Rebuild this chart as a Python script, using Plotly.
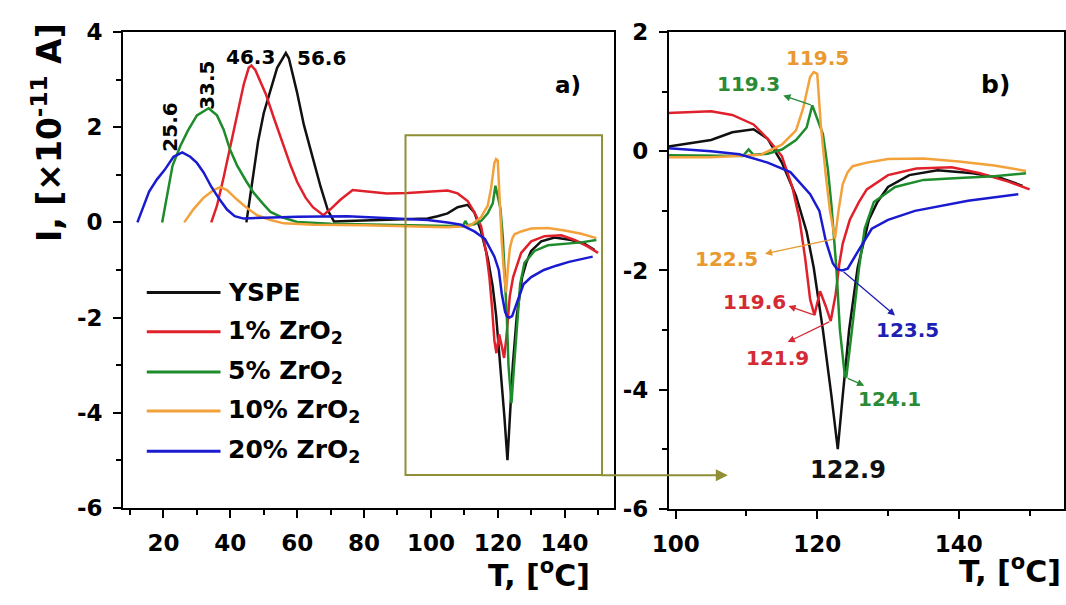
import numpy as np
import plotly.graph_objects as go

# ---- TSDC current vs temperature, I in units of 1e-11 A ----
black_T = [44.8, 46.5, 48.3, 50, 51.8, 54, 56.6, 57.5, 59.9, 62,
           64.5, 67, 69.2, 71, 75, 85, 95, 99, 102, 105,
           108, 111, 113, 115, 117, 118.5, 119.5, 120.8, 122, 122.9,
           123.6, 124.5, 125.7, 127.3, 128.5, 130, 133, 137, 142, 146, 149]
black_I = [0, 0.8, 1.7, 2.3, 2.75, 3.25, 3.56, 3.45, 2.75, 2.05,
           1.4, 0.75, 0.25, 0.02, 0.03, 0.05, 0.06, 0.08, 0.13, 0.19,
           0.32, 0.37, 0.21, -0.19, -0.75, -1.35, -1.95, -3.0, -4.1, -5.0,
           -4.1, -3.0, -1.96, -1.15, -0.85, -0.6, -0.4, -0.32, -0.37, -0.45, -0.58]

red_T = [34.3, 36, 38, 40, 42, 44, 45.5, 46.3, 47.5, 49,
         50.6, 53, 55.3, 58, 60, 62.5, 64.7, 67.8, 70, 73,
         76.6, 80, 86.8, 93, 99, 105, 108, 111, 113, 115,
         116.5, 117.5, 118.3, 119, 119.6, 120.4, 121.2, 121.9, 122.6, 123.1,
         123.6, 124.6, 125.9, 127, 130, 134, 139, 143, 147, 150]
red_I = [0, 0.35, 0.95, 1.6, 2.3, 2.9, 3.25, 3.3, 3.2, 2.95,
         2.7, 2.2, 1.73, 1.2, 0.85, 0.52, 0.32, 0.15, 0.28, 0.48,
         0.68, 0.66, 0.61, 0.62, 0.64, 0.67, 0.61, 0.45, 0.21, -0.08,
         -0.61, -1.15, -1.8, -2.49, -2.75, -2.35, -2.6, -2.85, -2.4, -1.9,
         -1.55, -1.15, -0.85, -0.64, -0.4, -0.29, -0.27, -0.37, -0.51, -0.64]

green_T = [19.6, 21, 22.7, 25, 27.3, 30, 33.5, 36, 38, 39.9,
           42, 44.8, 47, 49.8, 52, 55.3, 60, 70, 85, 99,
           105, 109.5, 110.3, 111, 113, 115, 117, 118.5, 119.3, 120,
           120.8, 121.5, 122, 122.7, 123.2, 123.9, 124.1, 124.9, 125.9, 126.7,
           128, 131, 135, 140, 145, 149.5]
green_I = [0, 0.55, 1.19, 1.6, 1.93, 2.25, 2.4, 2.25, 1.95, 1.53,
           1.2, 0.86, 0.62, 0.39, 0.22, 0.11, 0.01, -0.03, -0.05, -0.07,
           -0.08, -0.08, 0.03, -0.06, -0.04, 0.03, 0.19, 0.4, 0.77, 0.55,
           0.29, -0.3, -0.9, -1.96, -3.0, -3.77, -3.8, -3.0, -1.96, -1.3,
           -0.85, -0.6, -0.48, -0.45, -0.42, -0.37]

orange_T = [26.2, 29, 32, 35, 37, 39, 42, 45, 48, 52,
            56, 65, 80, 95, 99, 105, 110, 112, 113, 115,
            117, 118, 119, 119.5, 120, 120.5, 121.2, 121.8, 122.5, 123,
            123.6, 124.3, 125, 127, 130, 135, 140, 145, 149.5]
orange_I = [0, 0.28, 0.52, 0.68, 0.74, 0.68, 0.48, 0.3, 0.15, 0.05,
            -0.02, -0.05, -0.06, -0.08, -0.1, -0.1, -0.08, -0.06, 0.0, 0.11,
            0.35, 0.72, 1.25, 1.33, 1.3, 0.45, -0.4, -1.0, -1.47, -1.0,
            -0.55, -0.35, -0.25, -0.19, -0.13, -0.12, -0.17, -0.24, -0.33]

blue_T = [12.2, 14, 15.7, 18, 20.3, 23, 25.6, 28, 30, 32,
          34.3, 36.6, 39, 41.3, 44, 50, 60, 75, 90, 99,
          105, 109, 113, 116.2, 119, 120.3, 121.2, 122.2, 122.8, 123.5,
          124.3, 125.2, 125.9, 127.7, 130, 133.8, 137.5, 141.3, 148.4]
blue_I = [0, 0.35, 0.65, 0.9, 1.1, 1.38, 1.47, 1.38, 1.25, 1.05,
          0.75, 0.5, 0.27, 0.13, 0.08, 0.1, 0.12, 0.13, 0.08, 0.05,
          0.0, -0.05, -0.19, -0.35, -0.72, -1.0, -1.5, -1.88, -1.98, -2.0,
          -1.97, -1.8, -1.65, -1.3, -1.15, -1.0, -0.91, -0.83, -0.72]

series_names = ["YSPE", "1% ZrO<sub>2</sub>", "5% ZrO<sub>2</sub>",
                "10% ZrO<sub>2</sub>", "20% ZrO<sub>2</sub>"]
series_T = [black_T, red_T, green_T, orange_T, blue_T]
series_I = [black_I, red_I, green_I, orange_I, blue_I]
line_colors = ["#111111", "#e0202a", "#1e8c2c", "#f3a13a", "#1a1ad0"]
text_colors = ["#111111", "#d42a34", "#2a8a35", "#e8992f", "#1f1fb4"]

# axis tick values and labels (plain hyphen for negatives)
left_y_ticks = [-6, -4, -2, 0, 2, 4]
right_y_ticks = [-6, -4, -2, 0, 2]
left_x_ticks = [20, 40, 60, 80, 100, 120, 140]
right_x_ticks = [100, 120, 140]

W, H = 1066, 605
FONT = "DejaVu Sans"
OLIVE = "#8f8f35"


def px(x):
    return x / W


def py(y):
    return 1 - y / H


def extremum(T, I, lo, hi, kind):
    T = np.asarray(T, float)
    I = np.asarray(I, float)
    m = (T >= lo) & (T <= hi)
    idx = np.where(m)[0]
    k = idx[np.argmax(I[m])] if kind == "max" else idx[np.argmin(I[m])]
    return float(T[k]), float(I[k])


fig = go.Figure()
for name, T, I, c in zip(series_names, series_T, series_I, line_colors):
    fig.add_trace(go.Scatter(x=T, y=I, mode="lines", name=name,
                             line=dict(color=c, width=2.5),
                             xaxis="x", yaxis="y"))
    fig.add_trace(go.Scatter(x=T, y=I, mode="lines", name=name,
                             line=dict(color=c, width=2.5),
                             xaxis="x2", yaxis="y2", showlegend=False))

tickfont = dict(family=FONT, size=23, color="black", weight="bold")
minor_common = dict(ticks="outside", ticklen=5, tickwidth=2,
                    tickcolor="black", showgrid=False)
axis_common = dict(showline=True, linewidth=2, linecolor="black", mirror=True,
                   ticks="outside", ticklen=8, tickwidth=2, tickcolor="black",
                   showgrid=False, zeroline=False, tickfont=tickfont,
                   ticklabelstandoff=6)


def tick_text(vals):
    return [str(v) for v in vals]


fig.update_layout(
    width=W, height=H, margin=dict(l=0, r=0, t=0, b=0),
    plot_bgcolor="white", paper_bgcolor="white", showlegend=False,
    xaxis=dict(axis_common, domain=[px(108), px(607)], range=[7.94, 154.7],
               tickmode="array", tickvals=left_x_ticks,
               ticktext=tick_text(left_x_ticks),
               minor=dict(minor_common, tick0=0, dtick=10),
               anchor="y"),
    yaxis=dict(axis_common, domain=[py(517), py(20)], range=[-6, 4],
               tickmode="array", tickvals=left_y_ticks,
               ticktext=tick_text(left_y_ticks),
               minor=dict(minor_common, tick0=0, dtick=1),
               anchor="x"),
    xaxis2=dict(axis_common, domain=[px(663), px(1065)], range=[99.03, 154.86],
                tickmode="array", tickvals=right_x_ticks,
                ticktext=tick_text(right_x_ticks),
                minor=dict(minor_common, tick0=0, dtick=10),
                anchor="y2"),
    yaxis2=dict(axis_common, domain=[py(518), py(20)], range=[-6, 2],
                tickmode="array", tickvals=right_y_ticks,
                ticktext=tick_text(right_y_ticks),
                minor=dict(minor_common, tick0=0, dtick=1),
                anchor="x2"),
)

ann = []


def bold(size, color="black"):
    return dict(family=FONT, size=size, color=color, weight="bold")


# axis titles
ann.append(dict(text="I, [\u00d710<sup>-11</sup> A]", xref="paper", yref="paper",
                x=px(31), y=py(125), textangle=-90, showarrow=False,
                xanchor="center", yanchor="middle", font=bold(33)))
ann.append(dict(text="T, [<sup>o</sup>C]", xref="paper", yref="paper",
                x=px(531), y=py(586), showarrow=False,
                xanchor="center", yanchor="middle", font=bold(30)))
ann.append(dict(text="T, [<sup>o</sup>C]", xref="paper", yref="paper",
                x=px(1010), y=py(582), showarrow=False,
                xanchor="center", yanchor="middle", font=bold(30)))
ann.append(dict(text="a)", xref="paper", yref="paper", x=px(560), y=py(60),
                showarrow=False, font=bold(23)))
ann.append(dict(text="b)", xref="paper", yref="paper", x=px(1012), y=py(57),
                showarrow=False, font=bold(25)))

# low-temperature peak labels (panel a)
peak_labels = [
    (black_T, black_I, 40, 80, 36, 5, 0),
    (red_T, red_I, 30, 60, -1, -8, 0),
    (green_T, green_I, 15, 60, -1, -23, -90),
    (blue_T, blue_I, 10, 50, -12, -25, -90),
]
for T, I, lo, hi, dx, dy, ang in peak_labels:
    t, i = extremum(T, I, lo, hi, "max")
    ann.append(dict(text=f"{t:.1f}", x=t, y=i, xref="x", yref="y",
                    xshift=dx, yshift=-dy, textangle=ang, showarrow=False,
                    xanchor="center", yanchor="middle", font=bold(20)))

# high-temperature extrema labels (panel b): (series, range, kind, text offset, arrow head offset)
ext_labels = [
    (3, 115, 121, "max", (4, -14), None),
    (2, 115, 121, "max", (-64, -21), (-29, -10)),
    (3, 121, 124, "min", (-108, 20), (-70, 15)),
    (1, 119, 120.3, "min", (-60, -13), (-26, -9)),
    (1, 121.5, 122.5, "min", (-53, 37), (-43, 21)),
    (4, 118, 130, "min", (65, 60), (53, 45)),
    (2, 122, 127, "min", (43, 21), (18, 8)),
    (0, 118, 130, "min", (10, 21), None),
]
for k, lo, hi, kind, (tx, ty), head in ext_labels:
    t, i = extremum(series_T[k], series_I[k], lo, hi, kind)
    size = 24 if k == 0 else 20
    ann.append(dict(text=f"{t:.1f}", x=t, y=i, xref="x2", yref="y2",
                    xshift=tx, yshift=-ty, showarrow=False,
                    xanchor="center", yanchor="middle",
                    font=bold(size, text_colors[k])))
    if head is not None:
        hx, hy = head
        ann.append(dict(text="", x=t, y=i, xref="x2", yref="y2",
                        xshift=hx, yshift=-hy, ax=-hx, ay=-hy,
                        showarrow=True, arrowhead=2, arrowsize=1.1,
                        arrowwidth=1.3, arrowcolor=text_colors[k]))

# arrow from the zoom box to panel b
ann.append(dict(text="", xref="paper", yref="paper", x=px(723), y=py(483),
                ax=-128, ay=0, showarrow=True, arrowhead=2, arrowsize=1.2,
                arrowwidth=2, arrowcolor=OLIVE))

# legend drawn as line samples + labels
legend_rows = [292, 333, 375, 416, 458]
shapes = []
for name, c, yrow in zip(series_names, line_colors, legend_rows):
    shapes.append(dict(type="line", xref="paper", yref="paper",
                       x0=px(132), x1=px(207), y0=py(yrow), y1=py(yrow),
                       line=dict(color=c, width=3)))
    ann.append(dict(text=name, xref="paper", yref="paper", x=px(213), y=py(yrow),
                    xanchor="left", yanchor="middle", showarrow=False,
                    font=bold(25)))

# zoom box around the 92-151 degC region
shapes.append(dict(type="rect", xref="x", yref="y", x0=92.4, x1=151.2,
                   y0=-5.31, y1=1.83, line=dict(color=OLIVE, width=2)))

fig.update_layout(annotations=ann, shapes=shapes)
fig.write_html("out.html")
